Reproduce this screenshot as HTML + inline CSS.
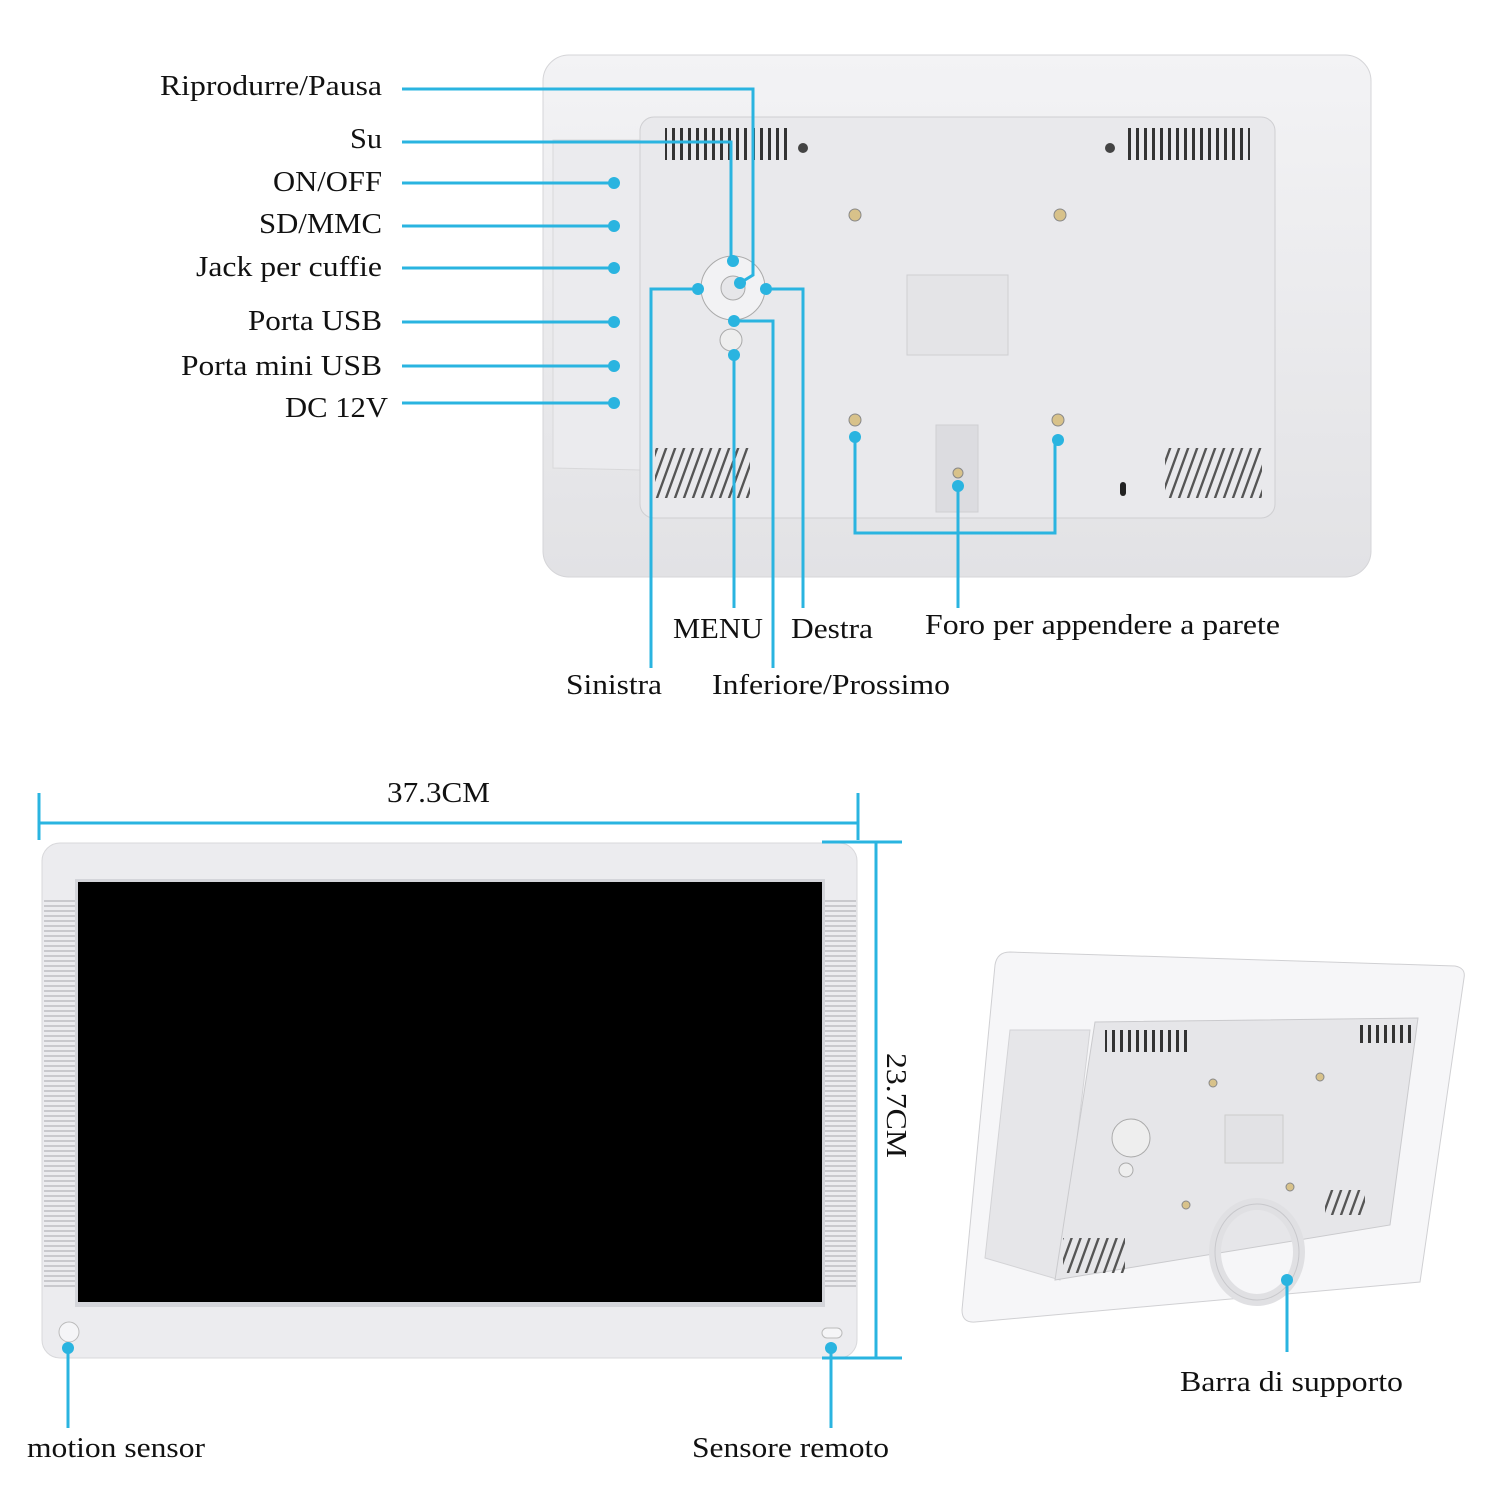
<!DOCTYPE html>
<html><head><meta charset="utf-8"><style>
html,body{margin:0;padding:0;background:#fff;}
svg{display:block}
text{font-family:"Liberation Serif",serif;font-size:29px;fill:#111}
.c{stroke:#2ab4e0;stroke-width:3;fill:none}
.d{fill:#2ab4e0}
</style></head><body>
<svg width="1500" height="1500" viewBox="0 0 1500 1500" xmlns="http://www.w3.org/2000/svg">
<defs>
<linearGradient id="g1" x1="0" y1="0" x2="0" y2="1"><stop offset="0" stop-color="#f3f3f5"/><stop offset="1" stop-color="#e2e2e5"/></linearGradient>
<pattern id="vv" width="8" height="10" patternUnits="userSpaceOnUse"><rect x="0" y="0" width="3" height="10" fill="#333"/></pattern>
<pattern id="vs" width="9" height="10" patternUnits="userSpaceOnUse" patternTransform="skewX(-20)"><rect x="0" y="0" width="2.5" height="10" fill="#555"/></pattern>
<pattern id="hs" width="10" height="5" patternUnits="userSpaceOnUse"><rect x="0" y="0" width="10" height="2" fill="#c9c9cd"/></pattern>
</defs>

<rect x="543" y="55" width="828" height="522" rx="26" fill="url(#g1)" stroke="#d5d5d8"/>
<path d="M553 140 L640 140 L640 470 L553 468 Z" fill="#ebebee" stroke="#d8d8da"/>
<rect x="640" y="117" width="635" height="401" rx="14" fill="#e9e9ec" stroke="#cfcfd2"/>
<rect x="665" y="128" width="125" height="32" fill="url(#vv)"/>
<rect x="1125" y="128" width="125" height="32" fill="url(#vv)"/>
<circle cx="803" cy="148" r="5" fill="#444"/><circle cx="1110" cy="148" r="5" fill="#444"/>
<rect x="655" y="448" width="95" height="50" fill="url(#vs)"/>
<rect x="1165" y="448" width="97" height="50" fill="url(#vs)"/>
<rect x="907" y="275" width="101" height="80" fill="#e4e4e7" stroke="#cfcfd2"/>
<rect x="936" y="425" width="42" height="87" fill="#dcdce0" stroke="#cfcfd2"/>
<g fill="#d8c28a" stroke="#888"><circle cx="855" cy="215" r="6"/><circle cx="1060" cy="215" r="6"/><circle cx="855" cy="420" r="6"/><circle cx="1058" cy="420" r="6"/><circle cx="958" cy="473" r="5"/></g>
<circle cx="733" cy="288" r="32" fill="#f2f2f4" stroke="#aaa"/>
<circle cx="733" cy="288" r="12" fill="#e6e6e9" stroke="#aaa"/>
<circle cx="731" cy="340" r="11" fill="#eee" stroke="#aaa"/>
<rect x="1120" y="482" width="6" height="14" rx="3" fill="#222"/>

<g lengthAdjust="spacingAndGlyphs">
<text x="160" y="95" textLength="222" lengthAdjust="spacingAndGlyphs">Riprodurre/Pausa</text>
<text x="350" y="148" textLength="32" lengthAdjust="spacingAndGlyphs">Su</text>
<text x="273" y="191" textLength="109" lengthAdjust="spacingAndGlyphs">ON/OFF</text>
<text x="259" y="233" textLength="123" lengthAdjust="spacingAndGlyphs">SD/MMC</text>
<text x="196" y="276" textLength="186" lengthAdjust="spacingAndGlyphs">Jack per cuffie</text>
<text x="248" y="330" textLength="134" lengthAdjust="spacingAndGlyphs">Porta USB</text>
<text x="181" y="375" textLength="201" lengthAdjust="spacingAndGlyphs">Porta mini USB</text>
<text x="285" y="417" textLength="103" lengthAdjust="spacingAndGlyphs">DC 12V</text>
<text x="673" y="638" textLength="90" lengthAdjust="spacingAndGlyphs">MENU</text>
<text x="791" y="638" textLength="82" lengthAdjust="spacingAndGlyphs">Destra</text>
<text x="925" y="634" textLength="355" lengthAdjust="spacingAndGlyphs">Foro per appendere a parete</text>
<text x="566" y="694" textLength="96" lengthAdjust="spacingAndGlyphs">Sinistra</text>
<text x="712" y="694" textLength="238" lengthAdjust="spacingAndGlyphs">Inferiore/Prossimo</text>
</g>

<g class="c">
<polyline points="402,89 753,89 753,275 740,283"/>
<polyline points="402,142 731,142 731,261"/>
<line x1="402" y1="183" x2="614" y2="183"/>
<line x1="402" y1="226" x2="614" y2="226"/>
<line x1="402" y1="268" x2="614" y2="268"/>
<line x1="402" y1="322" x2="614" y2="322"/>
<line x1="402" y1="366" x2="614" y2="366"/>
<line x1="402" y1="403" x2="614" y2="403"/>
<polyline points="698,289 651,289 651,668"/>
<polyline points="766,289 803,289 803,608"/>
<polyline points="734,321 773,321 773,668"/>
<line x1="734" y1="355" x2="734" y2="608"/>
<polyline points="855,437 855,533 1055,533 1055,440"/>
<line x1="958" y1="486" x2="958" y2="608"/>
</g>
<g class="d">
<circle cx="740" cy="283" r="6"/><circle cx="733" cy="261" r="6"/>
<circle cx="614" cy="183" r="6"/><circle cx="614" cy="226" r="6"/><circle cx="614" cy="268" r="6"/>
<circle cx="614" cy="322" r="6"/><circle cx="614" cy="366" r="6"/><circle cx="614" cy="403" r="6"/>
<circle cx="698" cy="289" r="6"/><circle cx="766" cy="289" r="6"/><circle cx="734" cy="321" r="6"/>
<circle cx="734" cy="355" r="6"/><circle cx="855" cy="437" r="6"/><circle cx="1058" cy="440" r="6"/><circle cx="958" cy="486" r="6"/>
</g>

<rect x="42" y="843" width="815" height="515" rx="18" fill="#ececef" stroke="#d8d8db"/>
<rect x="44" y="898" width="31" height="392" fill="url(#hs)"/>
<rect x="825" y="898" width="31" height="392" fill="url(#hs)"/>
<rect x="75" y="879" width="750" height="428" fill="#d4d5da"/>
<rect x="78" y="882" width="744" height="420" fill="#000"/>
<circle cx="69" cy="1332" r="10" fill="#f5f5f7" stroke="#bbb"/>
<rect x="822" y="1328" width="20" height="10" rx="5" fill="#f5f5f7" stroke="#bbb"/>
<g class="c">
<line x1="39" y1="793" x2="39" y2="840"/><line x1="858" y1="793" x2="858" y2="840"/>
<line x1="39" y1="823" x2="858" y2="823"/>
<line x1="822" y1="842" x2="902" y2="842"/><line x1="822" y1="1358" x2="902" y2="1358"/>
<line x1="876" y1="842" x2="876" y2="1358"/>
<line x1="68" y1="1348" x2="68" y2="1428"/>
<line x1="831" y1="1348" x2="831" y2="1428"/>
</g>
<g class="d"><circle cx="68" cy="1348" r="6"/><circle cx="831" cy="1348" r="6"/></g>
<text x="387" y="802" textLength="103" lengthAdjust="spacingAndGlyphs">37.3CM</text>
<text x="-52" y="0" textLength="105" lengthAdjust="spacingAndGlyphs" transform="translate(887,1105) rotate(90)">23.7CM</text>
<text x="27" y="1457" textLength="178" lengthAdjust="spacingAndGlyphs">motion sensor</text>
<text x="692" y="1457" textLength="197" lengthAdjust="spacingAndGlyphs">Sensore remoto</text>

<path d="M1010 952 L1455 966 Q1466 968 1464 978 L1420 1282 L975 1322 Q962 1323 962 1310 L995 965 Q997 952 1010 952 Z" fill="#f6f6f8" stroke="#d0d0d3"/>
<path d="M1010 1030 L1090 1030 L1060 1280 L985 1258 Z" fill="#e6e6e9" stroke="#d3d3d6"/>
<path d="M1095 1022 L1418 1018 L1390 1225 L1055 1280 Z" fill="#e6e6e9" stroke="#cacacd"/>
<rect x="1105" y="1030" width="85" height="22" fill="url(#vv)"/>
<rect x="1358" y="1025" width="55" height="18" fill="url(#vv)"/>
<rect x="1063" y="1238" width="62" height="35" fill="url(#vs)"/>
<rect x="1325" y="1190" width="40" height="25" fill="url(#vs)"/>
<rect x="1225" y="1115" width="58" height="48" fill="#e2e2e5" stroke="#ccc"/>
<circle cx="1131" cy="1138" r="19" fill="#eee" stroke="#aaa"/>
<circle cx="1126" cy="1170" r="7" fill="#eee" stroke="#aaa"/>
<g fill="#d8c28a" stroke="#888"><circle cx="1213" cy="1083" r="4"/><circle cx="1320" cy="1077" r="4"/><circle cx="1186" cy="1205" r="4"/><circle cx="1290" cy="1187" r="4"/></g>
<ellipse cx="1257" cy="1252" rx="42" ry="48" fill="none" stroke="#e0e0e3" stroke-width="12"/>
<ellipse cx="1257" cy="1252" rx="42" ry="48" fill="none" stroke="#c8c8cc" stroke-width="1"/>
<line class="c" x1="1287" y1="1280" x2="1287" y2="1352"/>
<circle class="d" cx="1287" cy="1280" r="6"/>
<text x="1180" y="1391" textLength="223" lengthAdjust="spacingAndGlyphs">Barra di supporto</text>
</svg>
</body></html>
